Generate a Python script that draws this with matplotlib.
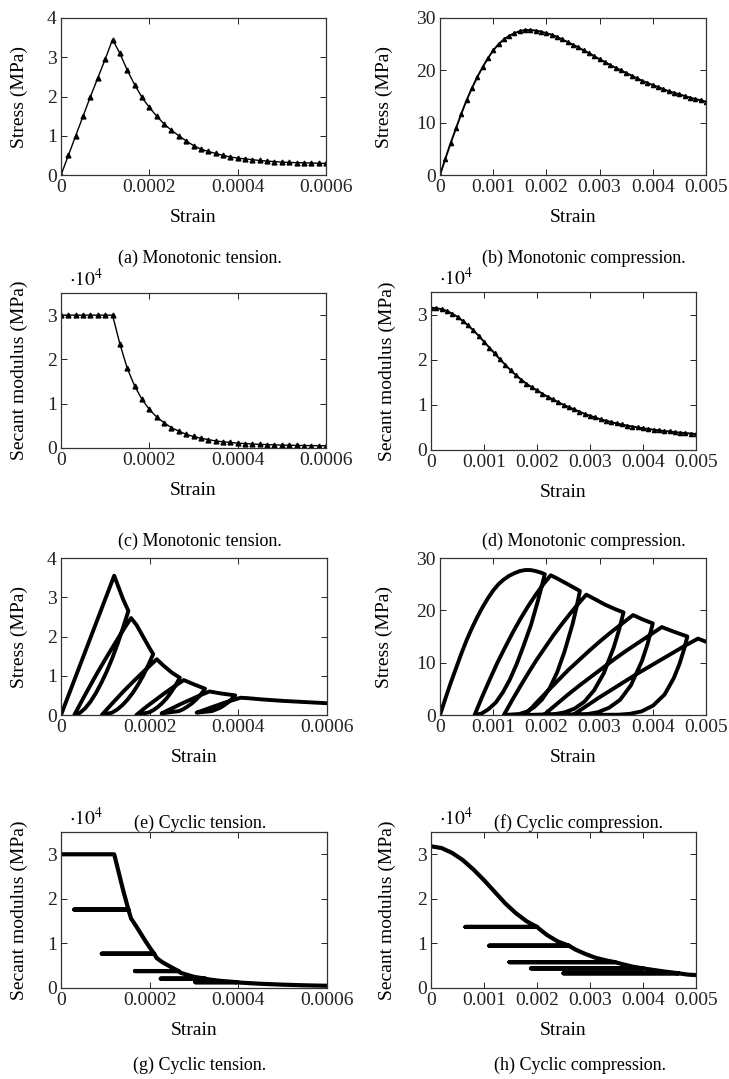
import matplotlib
matplotlib.use("Agg")
import matplotlib.pyplot as plt

plt.rcParams['font.family'] = 'serif'
plt.rcParams['font.serif'] = ['Liberation Serif', 'DejaVu Serif']
plt.rcParams['mathtext.fontset'] = 'stix'

W, H = 729, 1079

# (a) monotonic tension, stress (MPa)
strain_a = [0.0, 1.67e-5, 3.33e-5, 5.0e-5, 6.67e-5, 8.33e-5, 1.0e-4, 1.167e-4,
            1.333e-4, 1.5e-4, 1.667e-4, 1.833e-4, 2.0e-4, 2.167e-4, 2.333e-4,
            2.5e-4, 2.667e-4, 2.833e-4, 3.0e-4, 3.167e-4, 3.333e-4, 3.5e-4,
            3.667e-4, 3.833e-4, 4.0e-4, 4.167e-4, 4.333e-4, 4.5e-4, 4.667e-4,
            4.833e-4, 5.0e-4, 5.167e-4, 5.333e-4, 5.5e-4, 5.667e-4, 5.833e-4, 6.0e-4]
stress_a = [0.0, 0.5, 1.0, 1.5, 2.0, 2.47, 2.95, 3.45,
            3.1, 2.67, 2.3, 1.98, 1.72, 1.5, 1.3,
            1.14, 1.0, 0.87, 0.75, 0.66, 0.6, 0.55,
            0.5, 0.46, 0.43, 0.41, 0.39, 0.37, 0.355,
            0.34, 0.33, 0.32, 0.315, 0.31, 0.305, 0.3, 0.295]
# (c) monotonic tension, secant modulus (1e4 MPa)
secant_c = [3.0, 3.0, 3.0, 3.0, 3.0, 3.0, 3.0, 3.0,
            2.35, 1.8, 1.4, 1.1, 0.87, 0.7, 0.57,
            0.46, 0.38, 0.31, 0.26, 0.22, 0.19, 0.16,
            0.14, 0.125, 0.11, 0.1, 0.09, 0.082, 0.076,
            0.07, 0.066, 0.062, 0.059, 0.056, 0.054, 0.052, 0.05]

# (b)/(d) monotonic compression
strain_b = [0.0, 0.0001, 0.0002, 0.0003, 0.0004, 0.0005, 0.0006, 0.0007, 0.0008, 0.0009,
            0.001, 0.0011, 0.0012, 0.0013, 0.0014, 0.0015, 0.0016, 0.0017, 0.0018, 0.0019,
            0.002, 0.0021, 0.0022, 0.0023, 0.0024, 0.0025, 0.0026, 0.0027, 0.0028, 0.0029,
            0.003, 0.0031, 0.0032, 0.0033, 0.0034, 0.0035, 0.0036, 0.0037, 0.0038, 0.0039,
            0.004, 0.0041, 0.0042, 0.0043, 0.0044, 0.0045, 0.0046, 0.0047, 0.0048, 0.0049,
            0.005]
stress_b = [0.0, 3.1, 6.1, 8.9, 11.7, 14.3, 16.6, 18.7, 20.6, 22.3,
            23.8, 25.0, 25.9, 26.6, 27.1, 27.5, 27.7, 27.7, 27.6, 27.4,
            27.1, 26.8, 26.4, 25.9, 25.4, 24.9, 24.4, 23.8, 23.3, 22.7,
            22.1, 21.6, 21.0, 20.5, 20.0, 19.5, 19.0, 18.5, 18.0, 17.6,
            17.2, 16.8, 16.4, 16.0, 15.7, 15.4, 15.1, 14.8, 14.5, 14.3,
            14.0]
secant_d = [3.15, 3.14, 3.12, 3.08, 3.02, 2.95, 2.86, 2.76, 2.65, 2.53,
            2.40, 2.27, 2.14, 2.01, 1.89, 1.77, 1.66, 1.56, 1.47, 1.39,
            1.32, 1.25, 1.18, 1.12, 1.06, 1.00, 0.95, 0.90, 0.85, 0.80,
            0.76, 0.72, 0.68, 0.65, 0.62, 0.59, 0.565, 0.54, 0.52, 0.50,
            0.48, 0.465, 0.45, 0.435, 0.42, 0.41, 0.395, 0.385, 0.375, 0.365,
            0.355]

# (e) cyclic tension, load path
strain_e = [0.0, 0.00012, 0.00013, 0.00014, 0.000152,
            0.0001398, 0.0001276, 0.0001154, 0.0001032, 0.000091, 0.0000788, 0.0000666, 0.0000544, 0.0000422, 0.00003,
            0.0000556, 0.0000812, 0.0001068, 0.0001324, 0.0001452, 0.000158,
            0.00017, 0.00018, 0.00019, 0.0002, 0.000208,
            0.0001964, 0.0001848, 0.0001732, 0.0001616, 0.00015, 0.0001384, 0.0001268, 0.0001152, 0.000092,
            0.0001168, 0.0001416, 0.0001664, 0.0001912, 0.0002036, 0.000216,
            0.00023, 0.00025, 0.000268,
            0.0002582, 0.0002484, 0.0002386, 0.0002288, 0.000219, 0.0002092, 0.0001994, 0.00017,
            0.0001914, 0.0002128, 0.0002342, 0.0002556, 0.000277,
            0.0003, 0.000325,
            0.0003152, 0.0003054, 0.0002956, 0.0002858, 0.000276, 0.0002662, 0.000227,
            0.0002486, 0.0002702, 0.0002918, 0.0003134, 0.000335,
            0.00036, 0.000393,
            0.0003843, 0.0003756, 0.0003669, 0.0003582, 0.0003495, 0.0003408, 0.000306,
            0.0003258, 0.0003456, 0.0003654, 0.0003852, 0.000405,
            0.00042, 0.00045, 0.0005, 0.00055, 0.0006]
stress_e = [0.0, 3.55, 3.25, 2.95, 2.65,
            2.22, 1.81, 1.44, 1.11, 0.82, 0.56, 0.34, 0.17, 0.05, 0.0,
            0.54, 1.06, 1.55, 2.02, 2.25, 2.47,
            2.3, 2.1, 1.9, 1.7, 1.55,
            1.26, 0.99, 0.76, 0.56, 0.39, 0.25, 0.14, 0.06, 0.0,
            0.31, 0.61, 0.89, 1.16, 1.29, 1.42,
            1.27, 1.08, 0.95,
            0.75, 0.58, 0.43, 0.31, 0.21, 0.13, 0.07, 0.0,
            0.2, 0.38, 0.56, 0.73, 0.89,
            0.78, 0.67,
            0.52, 0.40, 0.30, 0.22, 0.15, 0.10, 0.04,
            0.16, 0.28, 0.39, 0.5, 0.6,
            0.55, 0.5,
            0.40, 0.31, 0.24, 0.18, 0.14, 0.10, 0.06,
            0.14, 0.22, 0.30, 0.37, 0.44,
            0.43, 0.40, 0.36, 0.33, 0.30]

# (f) cyclic compression, load path
strain_f = [0.0, 0.0001, 0.0002, 0.0003, 0.0004, 0.0005, 0.0006, 0.0007, 0.0008, 0.0009,
            0.001, 0.0011, 0.0012, 0.0013, 0.0014, 0.0015, 0.0016, 0.0017, 0.0018, 0.0019, 0.00197,
            0.00184, 0.00171, 0.00157, 0.00144, 0.00131, 0.00118, 0.00105, 0.00091, 0.00078, 0.00065,
            0.000793, 0.000936, 0.001079, 0.001222, 0.001365, 0.001508, 0.001651, 0.001794, 0.001937, 0.00208,
            0.0022, 0.0024, 0.00263,
            0.00256, 0.00249, 0.00234, 0.0022, 0.00206, 0.00192, 0.00177, 0.00163, 0.00149, 0.0012,
            0.001355, 0.00151, 0.001665, 0.00182, 0.001975, 0.00213, 0.002285, 0.00244, 0.002595, 0.00275,
            0.0029, 0.0031, 0.0033, 0.00345,
            0.003358, 0.003265, 0.00308, 0.002895, 0.00271, 0.002525, 0.00234, 0.002155, 0.0016,
            0.001803, 0.002006, 0.002209, 0.002412, 0.002615, 0.002818, 0.003021, 0.003224, 0.003427, 0.00363,
            0.0038, 0.004,
            0.0039, 0.003795, 0.00359, 0.003385, 0.00318, 0.002975, 0.00277, 0.00195,
            0.002172, 0.002394, 0.002616, 0.002838, 0.00306, 0.003282, 0.003504, 0.003726, 0.003948, 0.00417,
            0.0044, 0.00465,
            0.004586, 0.0045, 0.004392, 0.00422, 0.004005, 0.00379, 0.003575, 0.00336, 0.0025,
            0.002735, 0.00297, 0.003205, 0.00344, 0.003675, 0.00391, 0.004145, 0.00438, 0.004615, 0.00485,
            0.005]
stress_f = [0.0, 3.1, 6.1, 8.9, 11.7, 14.3, 16.6, 18.7, 20.6, 22.3,
            23.8, 25.0, 25.9, 26.6, 27.1, 27.5, 27.7, 27.7, 27.5, 27.2, 26.9,
            21.8, 17.2, 13.2, 9.7, 6.7, 4.3, 2.4, 1.1, 0.27, 0.0,
            3.5, 6.8, 10.0, 12.9, 15.7, 18.3, 20.7, 22.9, 24.9, 26.7,
            26.1, 25.0, 23.7,
            20.3, 17.3, 12.1, 8.1, 5.1, 3.0, 1.5, 0.64, 0.19, 0.0,
            2.8, 5.5, 8.1, 10.6, 12.9, 15.2, 17.3, 19.3, 21.2, 23.0,
            22.2, 21.1, 20.2, 19.6,
            16.0, 12.9, 8.0, 4.7, 2.5, 1.2, 0.5, 0.16, 0.0,
            2.25, 4.4, 6.5, 8.6, 10.5, 12.4, 14.2, 15.9, 17.5, 19.1,
            18.3, 17.5,
            13.5, 10.3, 5.7, 2.9, 1.4, 0.55, 0.18, 0.0,
            1.9, 3.8, 5.6, 7.3, 9.0, 10.7, 12.3, 13.8, 15.3, 16.8,
            15.9, 15.0,
            12.5, 9.7, 7.0, 3.9, 1.8, 0.7, 0.23, 0.06, 0.0,
            1.6, 3.2, 4.7, 6.2, 7.7, 9.1, 10.5, 11.9, 13.3, 14.6,
            14.0]

# (g) cyclic tension, secant modulus (1e4 MPa)
strain_g = [0.0, 0.00012, 0.00013, 0.00014, 0.000152, 0.00003, 0.000152,
            0.000158, 0.00017, 0.00018, 0.00019, 0.0002, 0.00021, 0.000092, 0.00021,
            0.000216, 0.00023, 0.00025, 0.000265, 0.000167, 0.000265,
            0.00027, 0.0003, 0.000325, 0.000225, 0.000325,
            0.000335, 0.00036, 0.000397, 0.000303, 0.000397,
            0.000405, 0.00045, 0.0005, 0.00055, 0.0006]
secant_g = [3.0, 3.0, 2.6, 2.2, 1.76, 1.76, 1.76,
            1.56, 1.38, 1.22, 1.06, 0.91, 0.77, 0.77, 0.77,
            0.67, 0.57, 0.46, 0.38, 0.38, 0.38,
            0.34, 0.25, 0.21, 0.21, 0.21,
            0.19, 0.16, 0.13, 0.13, 0.13,
            0.12, 0.095, 0.075, 0.06, 0.05]

# (h) cyclic compression, secant modulus (1e4 MPa)
strain_h = [0.0, 0.0002, 0.0004, 0.0006, 0.0008, 0.001, 0.0012, 0.0014, 0.0016, 0.0018,
            0.002, 0.00065, 0.002,
            0.00208, 0.0022, 0.0024, 0.0026, 0.0011, 0.0026,
            0.00273, 0.0029, 0.0031, 0.0033, 0.00347, 0.00148, 0.00347,
            0.00363, 0.0038, 0.004, 0.00189, 0.004,
            0.00417, 0.0044, 0.00467, 0.0025, 0.00467,
            0.00485, 0.005]
secant_h = [3.18, 3.14, 3.03, 2.87, 2.66, 2.42, 2.16, 1.9, 1.68, 1.5,
            1.37, 1.37, 1.37,
            1.29, 1.18, 1.04, 0.95, 0.95, 0.95,
            0.86, 0.77, 0.68, 0.62, 0.58, 0.58, 0.58,
            0.53, 0.48, 0.44, 0.44, 0.44,
            0.41, 0.37, 0.33, 0.33, 0.33,
            0.3, 0.29]

tension_ticks = [0, 0.0002, 0.0004, 0.0006]
tension_labels = ['0', '0.0002', '0.0004', '0.0006']
comp_ticks = [0, 0.001, 0.002, 0.003, 0.004, 0.005]
comp_labels = ['0', '0.001', '0.002', '0.003', '0.004', '0.005']

FS = 14
CAP_FS = 13

fig = plt.figure(figsize=(W / 100, H / 100), dpi=100)


def add_box(l, t, r, b):
    return fig.add_axes([l / W, 1 - b / H, (r - l) / W, (b - t) / H])


def style(ax, xticks, xlabels, xmax, yticks, ymax, ylabel, ylab_x, sci=False):
    ax.set_xlim(0, xmax)
    ax.set_ylim(0, ymax)
    ax.set_xticks(xticks, labels=xlabels)
    ax.set_yticks(yticks, labels=[str(v) for v in yticks])
    ax.tick_params(direction='in', top=True, right=True, length=4.5, width=0.7,
                   labelsize=FS, pad=3, colors='#222222')
    for sp in ax.spines.values():
        sp.set_linewidth(0.9)
        sp.set_color('#333333')
    ax.set_xlabel('Strain', fontsize=FS, labelpad=9)
    ax.set_ylabel(ylabel, fontsize=FS)
    ax.yaxis.set_label_coords(ylab_x, 0.5)
    if sci:
        ax.text(0.03, 1.02, r'$\cdot 10^4$', transform=ax.transAxes,
                fontsize=FS, ha='left', va='bottom')


ax = add_box(61, 18, 326, 175)
ax.plot(strain_a, stress_a, color='black', lw=1.0, marker='^', ms=3.5)
style(ax, tension_ticks, tension_labels, 0.0006, [0, 1, 2, 3, 4], 4, 'Stress (MPa)', -0.125)

ax = add_box(440, 18, 706, 175)
ax.plot(strain_b, stress_b, color='black', lw=1.4, marker='^', ms=3)
style(ax, comp_ticks, comp_labels, 0.005, [0, 10, 20, 30], 30, 'Stress (MPa)', -0.177)

ax = add_box(61, 293, 326, 448)
ax.plot(strain_a, secant_c, color='black', lw=1.0, marker='^', ms=3.5)
style(ax, tension_ticks, tension_labels, 0.0006, [0, 1, 2, 3], 3.5,
      'Secant modulus (MPa)', -0.125, sci=True)

ax = add_box(431, 292, 696, 450)
ax.plot(strain_b, secant_d, color='black', lw=1.4, marker='^', ms=3)
style(ax, comp_ticks, comp_labels, 0.005, [0, 1, 2, 3], 3.5,
      'Secant modulus (MPa)', -0.132, sci=True)

ax = add_box(61, 558, 327, 715)
ax.plot(strain_e, stress_e, color='black', lw=2.8, solid_joinstyle='round')
style(ax, tension_ticks, tension_labels, 0.0006, [0, 1, 2, 3, 4], 4, 'Stress (MPa)', -0.125)

ax = add_box(440, 558, 706, 715)
ax.plot(strain_f, stress_f, color='black', lw=2.8, solid_joinstyle='round')
style(ax, comp_ticks, comp_labels, 0.005, [0, 10, 20, 30], 30, 'Stress (MPa)', -0.177)

ax = add_box(61, 832, 327, 988)
ax.plot(strain_g, secant_g, color='black', lw=3.0, solid_joinstyle='round')
style(ax, tension_ticks, tension_labels, 0.0006, [0, 1, 2, 3], 3.5,
      'Secant modulus (MPa)', -0.125, sci=True)

ax = add_box(431, 832, 696, 988)
ax.plot(strain_h, secant_h, color='black', lw=3.0, solid_joinstyle='round')
style(ax, comp_ticks, comp_labels, 0.005, [0, 1, 2, 3], 3.5,
      'Secant modulus (MPa)', -0.132, sci=True)

captions = [('(a) Monotonic tension.', 200, 258), ('(b) Monotonic compression.', 584, 258),
            ('(c) Monotonic tension.', 200, 541), ('(d) Monotonic compression.', 584, 541),
            ('(e) Cyclic tension.', 200, 823), ('(f) Cyclic compression.', 578, 823),
            ('(g) Cyclic tension.', 200, 1065), ('(h) Cyclic compression.', 580, 1065)]
for txt, cx, cy in captions:
    fig.text(cx / W, 1 - cy / H, txt, fontsize=CAP_FS, ha='center', va='center')

fig.savefig('out.png', dpi=100)
